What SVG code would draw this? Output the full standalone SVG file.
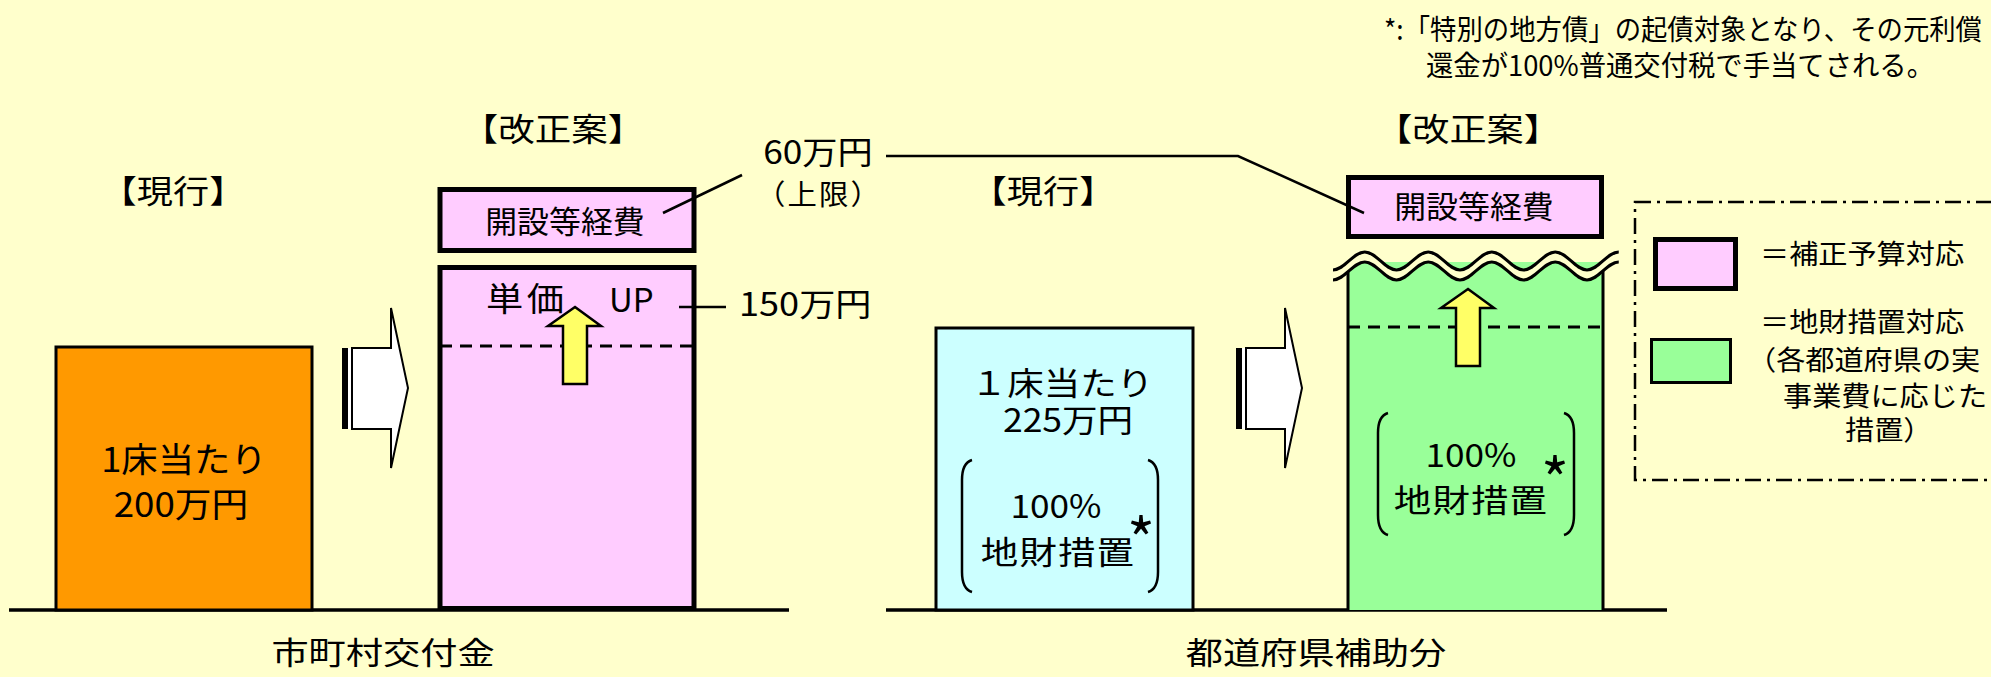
<svg xmlns="http://www.w3.org/2000/svg" width="1991" height="677" viewBox="0 0 1991 677">
<style>
text{font-family:"Noto Sans CJK JP","Noto Sans CJK SC",sans-serif;fill:#000}
.h{font-size:32px}
.m{font-size:31px}
.c{text-anchor:middle}
.thick{stroke:#000;stroke-width:5}
.thin{stroke:#000;stroke-width:3}
.ln{fill:none;stroke:#000;stroke-width:2.5}
.dash{fill:none;stroke:#000;stroke-width:3;stroke-dasharray:12 8}
.par{fill:none;stroke:#000;stroke-width:2.5}
.lg{font-size:27px}
.ast{font-size:60px;text-anchor:middle}
</style>
<defs>
<g id="blockArrow">
<rect x="342" y="348" width="10" height="81" fill="#fff"/>
<rect x="342" y="348" width="6" height="81" fill="#000"/>
<polygon points="352,348 391,348 391,308 408,388 391,468 391,429 352,429" fill="#fff" stroke="#000" stroke-width="2"/>
</g>
<polygon id="upArrow" points="575,307 601,326 587,326 587,384 563,384 563,326 548,326" fill="#FFFF66" stroke="#000" stroke-width="2.5"/>
</defs>
<rect width="1991" height="677" fill="#FFFFCC"/>

<g id="footnote">
<text x="1384" y="40" font-size="28" textLength="598" lengthAdjust="spacingAndGlyphs">*:「特別の地方債」の起債対象となり、その元利償</text>
<text x="1426" y="76" font-size="28" textLength="508" lengthAdjust="spacingAndGlyphs">還金が100%普通交付税で手当てされる。</text>
</g>

<g id="ground">
<line x1="9" y1="610" x2="789" y2="610" stroke="#000" stroke-width="3.5"/>
<line x1="886" y1="610" x2="1667" y2="610" stroke="#000" stroke-width="3.5"/>
</g>

<g id="city-current">
<text class="h c" transform="translate(173,203) scale(1.13,1)">【現行】</text>
<rect x="56" y="347" width="256" height="263" fill="#FF9900" class="thin"/>
<text class="c" font-size="34" transform="translate(184,472) scale(1.07,1)">1床当たり</text>
<text class="c" font-size="34" transform="translate(181,517) scale(1.08,1)">200万円</text>
</g>

<g id="city-arrow"><use href="#blockArrow"/></g>

<g id="city-proposal">
<text class="h c" transform="translate(553,141) scale(1.14,1)">【改正案】</text>
<rect x="440" y="267.5" width="254" height="341" fill="#FFCCFF" class="thick"/>
<line x1="440" y1="346" x2="694" y2="346" class="dash"/>
<text font-size="33" letter-spacing="3" transform="translate(486,311) scale(1.13,1)">単価</text>
<text font-size="32" transform="translate(609,312) scale(1.03,1)">UP</text>
<use href="#upArrow"/>
</g>

<g id="city-setup">
<rect x="440" y="189.5" width="254" height="61" fill="#FFCCFF" class="thick"/>
<text class="m c" transform="translate(565,233) scale(1.03,1)">開設等経費</text>
</g>

<g id="label-60">
<text class="h c" transform="translate(818,164) scale(1.1,1)">60万円</text>
<text class="c" font-size="28" letter-spacing="2" transform="translate(819,205) scale(1.05,1)">（上限）</text>
</g>
<g id="label-150">
<text class="h" transform="translate(739,316) scale(1.13,1)">150万円</text>
</g>

<g id="city-caption"><text class="m c" transform="translate(383,664) scale(1.2,1)">市町村交付金</text></g>

<g id="pref-current">
<text class="h c" transform="translate(1043,203) scale(1.13,1)">【現行】</text>
<rect x="936" y="328" width="257" height="282" fill="#CCFFFF" class="thin"/>
<text class="h c" transform="translate(1062,395) scale(1.14,1)">１床当たり</text>
<text class="h c" transform="translate(1068,432) scale(1.11,1)">225万円</text>
<path class="par" d="M972,460 Q962,463 962,480 L962,572 Q962,589 972,592"/>
<path class="par" d="M1148,460 Q1158,463 1158,480 L1158,572 Q1158,589 1148,592"/>
<text class="h c" transform="translate(1056,518) scale(1.1,1)">100%</text>
<text class="h c" letter-spacing="1" transform="translate(1058,564) scale(1.17,1)">地財措置</text>
<text class="ast" x="1141" y="563">*</text>
</g>

<g id="pref-arrow"><use href="#blockArrow" transform="translate(894,0)"/></g>

<g id="pref-proposal">
<text class="h c" transform="translate(1468,141) scale(1.16,1)">【改正案】</text>
<rect x="1348" y="262" width="255" height="348" fill="#99FF99"/>
<line x1="1348" y1="262" x2="1348" y2="610" class="thin"/>
<line x1="1603" y1="262" x2="1603" y2="610" class="thin"/>
<path d="M1333,270 C1344.6,270 1353.2,252 1364.75,252 C1376.3,252 1384.9,270 1396.5,270 C1408.1,270 1416.7,252 1428.25,252 C1439.8,252 1448.4,270 1460,270 C1471.6,270 1480.2,252 1491.75,252 C1503.3,252 1511.9,270 1523.5,270 C1535.1,270 1543.7,252 1555.25,252 C1566.8,252 1575.4,270 1587,270 C1598.6,270 1607.2,252 1618.75,252 L1618.75,262 C1607.2,262 1598.6,280 1587,280 C1575.4,280 1566.8,262 1555.25,262 C1543.7,262 1535.1,280 1523.5,280 C1511.9,280 1503.3,262 1491.75,262 C1480.2,262 1471.6,280 1460,280 C1448.4,280 1439.8,262 1428.25,262 C1416.7,262 1408.1,280 1396.5,280 C1384.9,280 1376.3,262 1364.75,262 C1353.2,262 1344.6,280 1333,280 Z" fill="#FFFFCC"/>
<path class="thin" fill="none" d="M1333,270 C1344.6,270 1353.2,252 1364.75,252 C1376.3,252 1384.9,270 1396.5,270 C1408.1,270 1416.7,252 1428.25,252 C1439.8,252 1448.4,270 1460,270 C1471.6,270 1480.2,252 1491.75,252 C1503.3,252 1511.9,270 1523.5,270 C1535.1,270 1543.7,252 1555.25,252 C1566.8,252 1575.4,270 1587,270 C1598.6,270 1607.2,252 1618.75,252"/>
<path class="thin" fill="none" d="M1333,280 C1344.6,280 1353.2,262 1364.75,262 C1376.3,262 1384.9,280 1396.5,280 C1408.1,280 1416.7,262 1428.25,262 C1439.8,262 1448.4,280 1460,280 C1471.6,280 1480.2,262 1491.75,262 C1503.3,262 1511.9,280 1523.5,280 C1535.1,280 1543.7,262 1555.25,262 C1566.8,262 1575.4,280 1587,280 C1598.6,280 1607.2,262 1618.75,262"/>
<line x1="1348" y1="327" x2="1603" y2="327" class="dash"/>
<use href="#upArrow" transform="translate(893,-18)"/>
<path class="par" d="M1388,413 Q1378,416 1378,433 L1378,515 Q1378,532 1388,535"/>
<path class="par" d="M1564,413 Q1574,416 1574,433 L1574,515 Q1574,532 1564,535"/>
<text class="h c" transform="translate(1471,467) scale(1.1,1)">100%</text>
<text class="h c" letter-spacing="1" transform="translate(1471,512) scale(1.17,1)">地財措置</text>
<text class="ast" x="1555" y="503">*</text>
</g>

<g id="pref-setup">
<rect x="1348.5" y="177.5" width="253" height="59" fill="#FFCCFF" class="thick"/>
<text class="m c" transform="translate(1474,218) scale(1.03,1)">開設等経費</text>
</g>

<g id="pref-caption"><text class="m c" transform="translate(1316,664) scale(1.2,1)">都道府県補助分</text></g>

<g id="connectors">
<line x1="663" y1="213" x2="742" y2="175" class="ln"/>
<polyline points="886,156 1238,156 1364,213" class="ln"/>
<line x1="679" y1="307" x2="726" y2="307" class="ln"/>
</g>

<g id="legend">
<rect x="1635" y="202" width="420" height="278" fill="none" stroke="#000" stroke-width="2.5" stroke-dasharray="16 6 3 6"/>
<rect x="1655.5" y="239.5" width="80" height="49" fill="#FFCCFF" class="thick"/>
<rect x="1651.5" y="339.5" width="79" height="43" fill="#99FF99" class="thin"/>
<text class="lg" transform="translate(1760,264) scale(1.08,1)">＝補正予算対応</text>
<text class="lg" transform="translate(1760,332) scale(1.08,1)">＝地財措置対応</text>
<text class="lg" transform="translate(1747,370) scale(1.08,1)">（各都道府県の実</text>
<text class="lg" transform="translate(1783,406) scale(1.08,1)">事業費に応じた</text>
<text class="lg" transform="translate(1845,440) scale(1.08,1)">措置）</text>
</g>
</svg>
